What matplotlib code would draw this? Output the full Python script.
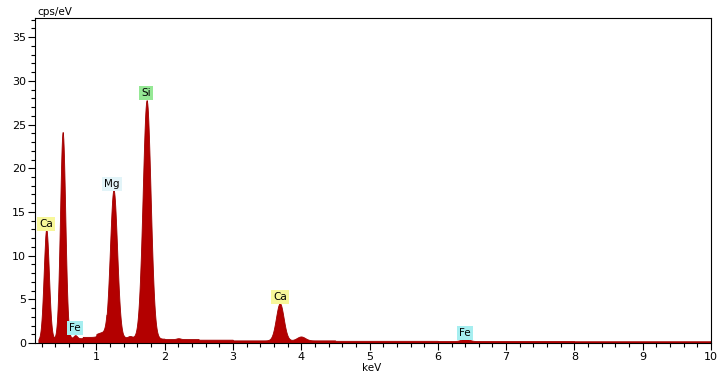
import numpy as np
import matplotlib
matplotlib.use("Agg")
import matplotlib.pyplot as plt
from matplotlib.ticker import MultipleLocator

# Peak table (keV, height above background in cps/eV, sigma in keV)
peak_energy = [0.265, 0.505, 0.69, 1.07, 1.25, 1.49, 1.735, 2.2, 3.685, 3.995, 6.40]
peak_height = [12.6, 23.7, 0.35, 0.25, 17.0, 0.2, 27.3, 0.1, 4.25, 0.45, 0.25]
peak_sigma = [0.038, 0.038, 0.025, 0.05, 0.052, 0.03, 0.058, 0.03, 0.056, 0.06, 0.06]

# Continuum levels per energy bin (bin edges in keV)
bg_edges = [0.15, 0.25, 0.6, 0.8, 1.0, 1.15, 1.4, 1.65, 2.0, 2.5, 3.0, 4.5, 6.0, 8.0, 10.0]
bg_level = [0.3, 0.45, 0.55, 0.7, 0.95, 0.55, 0.6, 0.5, 0.45, 0.38, 0.3, 0.25, 0.22, 0.2]

# Element labels (text, keV, cps/eV, colour)
lab_text = ["Ca", "Fe", "Mg", "Si", "Ca", "Fe"]
lab_x = [0.26, 0.69, 1.23, 1.73, 3.685, 6.40]
lab_y = [13.6, 1.75, 18.2, 28.6, 5.3, 1.15]
lab_color = ["#f7f79a", "#a6eef0", "#e2f4f8", "#95e895", "#f7f79a", "#a6eef0"]

energy = np.arange(0.15, 10.0, 0.005)
edges = np.array(bg_edges)
idx = np.clip(np.searchsorted(edges, energy, side="right") - 1, 0, len(bg_level) - 1)
counts = np.array(bg_level)[idx]
for e, h, s in zip(peak_energy, peak_height, peak_sigma):
    counts = counts + h * np.exp(-0.5 * ((energy - e) / s) ** 2)

fig = plt.figure(figsize=(7.2, 3.75), dpi=100)
ax = fig.add_axes([35 / 720, 32 / 375, 676 / 720, 325 / 375])
ax.fill_between(energy, 0, counts, color="#b30000", linewidth=0.6, edgecolor="#a00000")
ax.set_xlim(0.1, 10.0)
ax.set_ylim(0, 37.2)

ax.xaxis.set_major_locator(MultipleLocator(1))
ax.xaxis.set_minor_locator(MultipleLocator(0.2))
ax.yaxis.set_major_locator(MultipleLocator(5))
ax.yaxis.set_minor_locator(MultipleLocator(1))
ax.tick_params(axis="both", which="major", direction="out", length=5, width=0.8,
               labelsize=8, colors="#000000", pad=1.5)
ax.tick_params(axis="both", which="minor", direction="out", length=3, width=0.8)
ax.set_xticks(range(1, 11))
for sp in ax.spines.values():
    sp.set_linewidth(0.8)
    sp.set_color("#000000")

for t, x, y, c in zip(lab_text, lab_x, lab_y, lab_color):
    ax.text(x, y, t, fontsize=7.5, ha="center", va="center",
            bbox=dict(boxstyle="square,pad=0.2", facecolor=c, edgecolor="none"))

fig.text(37 / 720, 1 - 12 / 375, "cps/eV", fontsize=7.5, ha="left", va="center")
fig.text(372 / 720, 1 - 368 / 375, "keV", fontsize=7.5, ha="center", va="center")

fig.savefig("out.png", dpi=100)
